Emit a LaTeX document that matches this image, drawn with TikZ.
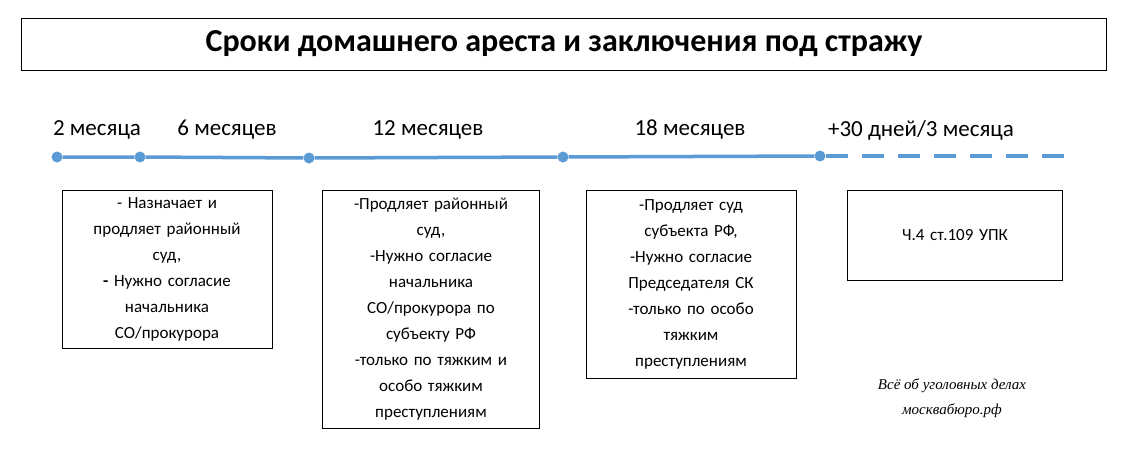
\documentclass[tikz,border=0pt]{standalone}
\usepackage{fontspec}
\setmainfont{Carlito}
\newfontfamily\signfont{Liberation Serif}
\usetikzlibrary{positioning}
\definecolor{lineblue}{RGB}{91,155,213}

\begin{document}
\begin{tikzpicture}[x=1pt, y=-1pt,
		box/.style={draw, line width=0.8pt, anchor=north, align=center, font=\fontsize{17}{26}\selectfont, inner sep=4pt},
		period/.style={font=\fontsize{23}{26}\selectfont},
		dot/.style={circle, fill=lineblue, inner sep=0pt, minimum size=11pt}]
		\useasboundingbox (0,0) rectangle (1131,459);

		% title
		\node[draw, line width=0.8pt, minimum width=1085pt, minimum height=52pt, font=\bfseries\fontsize{32}{36}\selectfont] (title) at (564,44) {Сроки домашнего ареста и заключения под стражу};

		% timeline
		\node[dot] (d1) at (57,157) {};
		\node[dot] (d2) at (140,157) {};
		\node[dot] (d3) at (309,158) {};
		\node[dot] (d4) at (563,157) {};
		\node[dot] (d5) at (820,156) {};
		\coordinate (end) at (1075,156);
		\draw[lineblue, line width=3.5pt] (d1) -- (d2) -- (d3) -- (d4) -- (d5);
		\draw[lineblue, line width=3.5pt, dash pattern=on 22pt off 14pt] (d5) -- (end);

		\node[period] (p1) at (97,130) {2 месяца};
		\node[period] (p2) at (227,130) {6 месяцев};
		\node[period] (p3) at (428,130) {12 месяцев};
		\node[period] (p4) at (690,130) {18 месяцев};
		\node[period] (p5) at (921,130) {+30 дней/3 месяца};

		% boxes
		\node[box, text width=202pt, minimum height=158pt] (b1) at (167,190) {- Назначает и\\продляет районный\\суд,\\\textbf{-} Нужно согласие\\начальника\\СО/прокурора};
		\node[box, text width=209pt, minimum height=238pt] (b2) at (431,190) {-Продляет районный\\суд,\\-Нужно согласие\\начальника\\СО/прокурора по\\субъекту РФ\\-только по тяжким и\\особо тяжким\\преступлениям};
		\node[box, text width=202pt, minimum height=188pt] (b3) at (691,190) {-Продляет суд\\субъекта РФ,\\-Нужно согласие\\Председателя СК\\-только по особо\\тяжким\\преступлениям};
		\node[box, text width=207pt, minimum height=90pt] (b4) at (955,190) {Ч.4 ст.109 УПК};

		% signature
		\node[font=\signfont\itshape\fontsize{15}{25}\selectfont, align=center] (sign) at (952,398) {Всё об уголовных делах\\москвабюро.рф};
	\end{tikzpicture}
\end{document}
